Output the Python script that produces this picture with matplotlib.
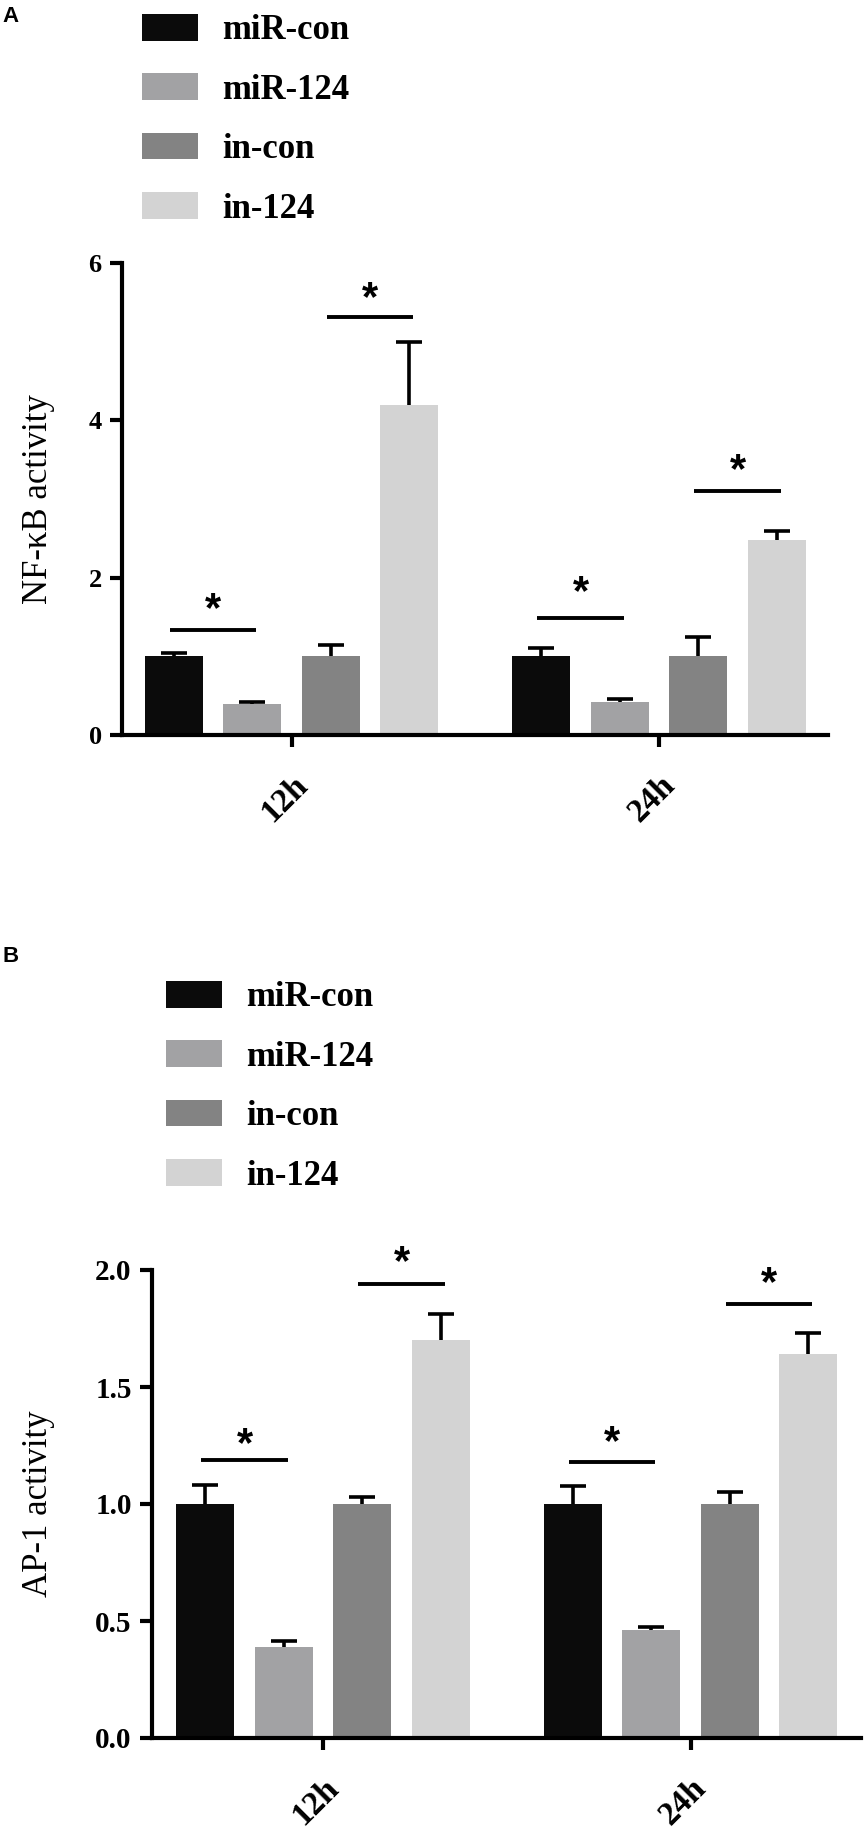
import matplotlib
matplotlib.use("Agg")
import matplotlib.pyplot as plt
from matplotlib.patches import Patch
import numpy as np

groups = ["12h", "24h"]
series = ["miR-con", "miR-124", "in-con", "in-124"]
colors = ["#0b0b0b", "#a2a2a4", "#838383", "#d3d3d3"]

# Panel A: NF-kB activity
nfkb_mean = {"12h": [1.0, 0.40, 1.0, 4.20], "24h": [1.0, 0.42, 1.0, 2.48]}
nfkb_err = {"12h": [0.04, 0.02, 0.14, 0.80], "24h": [0.11, 0.04, 0.24, 0.11]}
# significance: (group, bar_i, bar_j, line_y, star_y)
nfkb_sig = [("12h", 0, 1, 1.34, 1.59), ("12h", 2, 3, 5.31, 5.54),
            ("24h", 0, 1, 1.49, 1.81), ("24h", 2, 3, 3.10, 3.36)]
nfkb_ticks = [0, 2, 4, 6]

# Panel B: AP-1 activity
ap1_mean = {"12h": [1.0, 0.39, 1.0, 1.70], "24h": [1.0, 0.46, 1.0, 1.64]}
ap1_err = {"12h": [0.08, 0.025, 0.03, 0.11], "24h": [0.075, 0.015, 0.05, 0.09]}
ap1_sig = [("12h", 0, 1, 1.19, 1.25), ("12h", 2, 3, 1.94, 2.03),
           ("24h", 0, 1, 1.18, 1.26), ("24h", 2, 3, 1.855, 1.94)]
ap1_ticks = [0.0, 0.5, 1.0, 1.5, 2.0]

SERIF = ["Liberation Serif", "DejaVu Serif"]
W, H = 864, 1830
fig = plt.figure(figsize=(W / 100, H / 100), dpi=100)

group_offset = 4.68
bar_w = 0.74


def px_axes(l, r, t, b):
    return [l / W, 1 - b / H, (r - l) / W, (b - t) / H]


def draw_panel(ax, means, errs, sig, ticks, ylabel, ytick_fs, tick_fmt, xlim):
    for g_i, g in enumerate(groups):
        xs = np.arange(4) + g_i * group_offset
        ax.bar(xs, means[g], width=bar_w, color=colors, edgecolor="none", zorder=2)
        _, caps, _ = ax.errorbar(xs, means[g], yerr=[np.zeros(4), errs[g]], fmt="none",
                                 ecolor="black", elinewidth=2.6, capsize=9.4,
                                 capthick=2.6, zorder=3)
        if len(caps) == 2:
            caps[0].set_visible(False)
    for g, i, j, ly, sy in sig:
        g_i = groups.index(g)
        x0 = i + g_i * group_offset - 0.05
        x1 = j + g_i * group_offset + 0.05
        ax.plot([x0, x1], [ly, ly], color="black", lw=2.8, solid_capstyle="butt",
                clip_on=False)
        ax.text((x0 + x1) / 2, sy, "*", ha="center", va="center", fontsize=30,
                fontweight="bold", family=["Liberation Sans", "DejaVu Sans"], clip_on=False)
    ax.set_xlim(*xlim)
    ax.set_ylim(ticks[0], ticks[-1])
    ax.set_yticks(ticks)
    ax.set_yticklabels([tick_fmt(t) for t in ticks], fontsize=ytick_fs,
                       fontweight="bold", family=SERIF)
    centers = [1.5 + g_i * group_offset for g_i in range(len(groups))]
    ax.set_xticks(centers)
    ax.set_xticklabels(groups, fontsize=24, fontweight="bold", family=SERIF,
                       rotation=45, ha="right", va="top", rotation_mode="anchor")
    for s in ["top", "right"]:
        ax.spines[s].set_visible(False)
    for s in ["left", "bottom"]:
        ax.spines[s].set_linewidth(3)
    ax.tick_params(axis="y", length=8.6, width=3, pad=6)
    ax.tick_params(axis="x", length=8.6, width=3, pad=16)
    ax.set_ylabel(ylabel, fontsize=25, family=SERIF)


axA = fig.add_axes(px_axes(122, 828, 263, 735))
draw_panel(axA, nfkb_mean, nfkb_err, nfkb_sig, nfkb_ticks, "NF-κB activity", 19,
           lambda t: f"{t:d}", (-0.66, 8.33))
axB = fig.add_axes(px_axes(152, 861, 1270, 1738))
draw_panel(axB, ap1_mean, ap1_err, ap1_sig, ap1_ticks, "AP-1 activity", 21,
           lambda t: f"{t:.1f}", (-0.68, 8.35))

axA.yaxis.set_label_coords((55 - 122) / (828 - 122), 0.5)
axB.yaxis.set_label_coords((55 - 152) / (861 - 152), 0.5)

handles = [Patch(facecolor=c, edgecolor="none") for c in colors]
leg_kw = dict(frameon=False, loc="upper left", borderpad=0, borderaxespad=0,
              handlelength=1.6, handleheight=0.8, handletextpad=0.7, labelspacing=0.75,
              prop={"family": SERIF, "weight": "bold", "size": 25})
fig.legend(handles, series, bbox_to_anchor=(142 / W, 1 - 14 / H), **leg_kw)
fig.legend(handles, series, bbox_to_anchor=(166 / W, 1 - 981 / H), **leg_kw)

fig.text(2 / W, 1 - 6 / H, "A", fontsize=16, fontweight="bold",
         family=["Liberation Sans", "DejaVu Sans"], ha="left", va="top")
fig.text(2 / W, 1 - 946 / H, "B", fontsize=16, fontweight="bold",
         family=["Liberation Sans", "DejaVu Sans"], ha="left", va="top")

fig.savefig("out.png", dpi=100)
